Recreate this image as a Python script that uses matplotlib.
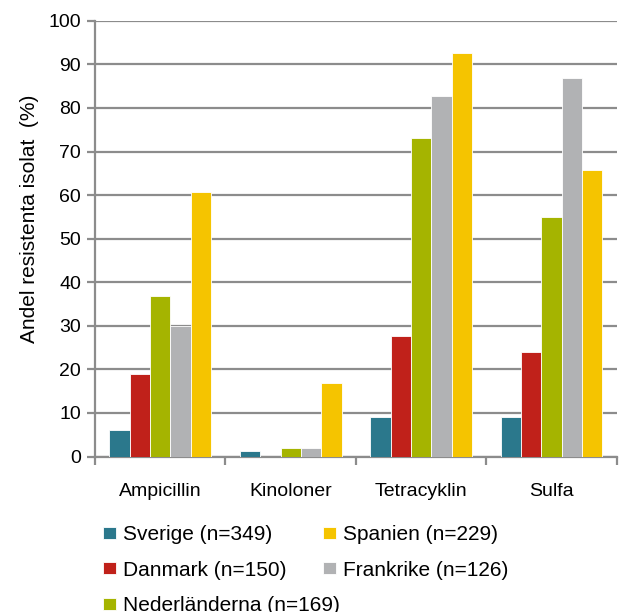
import numpy as np
import matplotlib.pyplot as plt

plt.rcParams['font.family'] = ['Liberation Sans', 'DejaVu Sans']

categories = ['Ampicillin', 'Kinoloner', 'Tetracyklin', 'Sulfa']
series = ['Sverige (n=349)', 'Danmark (n=150)', 'Nederländerna (n=169)',
          'Frankrike (n=126)', 'Spanien (n=229)']
sverige = [6.2, 1.2, 9.0, 9.0]
danmark = [18.9, 0, 27.7, 24.0]
nederlanderna = [36.9, 1.9, 73.0, 55.0]
frankrike = [30.0, 1.9, 82.8, 86.9]
spanien = [60.7, 16.8, 92.7, 65.8]
colors = ['#2B788C', '#C0211A', '#A5B400', '#B1B2B4', '#F5C400']

grid_c = '#8C8C8C'
fig = plt.figure(figsize=(6.19, 6.12), dpi=100)
ax = fig.add_axes([0.1535, 0.254, 0.843, 0.712])

x = np.arange(len(categories))
w = 0.156
handles = {}
for i, (name, vals) in enumerate(zip(series, [sverige, danmark, nederlanderna, frankrike, spanien])):
    b = ax.bar(x + (i - 2) * w, vals, w, color=colors[i], edgecolor='white',
               linewidth=0.6, zorder=3, label=name)
    handles[name] = b

ax.set_ylim(0, 100)
ax.set_xlim(-0.5, 3.5)
ax.set_yticks(range(0, 101, 10))
ax.yaxis.grid(True, color=grid_c, linewidth=1.6, zorder=0)
ax.set_xticks(x)
ax.set_xticklabels(categories, fontsize=14)
ax.set_xticks(np.arange(-0.5, 4, 1), minor=True)
ax.tick_params(axis='x', which='major', length=0, pad=19)
ax.tick_params(axis='x', which='minor', length=6, width=1.6, color=grid_c)
ax.tick_params(axis='y', length=6, width=1.6, color=grid_c, labelsize=14, pad=4)
for s in ['top', 'right']:
    ax.spines[s].set_visible(False)
for s in ['left', 'bottom']:
    ax.spines[s].set_color(grid_c)
    ax.spines[s].set_linewidth(1.6)
ax.set_ylabel('Andel resistenta isolat  (%)', fontsize=15)
ax.yaxis.set_label_coords(-0.108, 0.545)

# legend in two separate columns, like the original
leg_kw = dict(loc='upper left', frameon=False, fontsize=15,
              handlelength=0.6, handleheight=0.5, handletextpad=0.35,
              labelspacing=0.8, borderpad=0, borderaxespad=0)
col1 = ['Sverige (n=349)', 'Danmark (n=150)', 'Nederländerna (n=169)']
col2 = ['Spanien (n=229)', 'Frankrike (n=126)']
fig.legend([handles[n] for n in col1], col1, bbox_to_anchor=(0.167, 0.142), **leg_kw)
fig.legend([handles[n] for n in col2], col2, bbox_to_anchor=(0.522, 0.142), **leg_kw)

fig.savefig('out.png', dpi=100)
